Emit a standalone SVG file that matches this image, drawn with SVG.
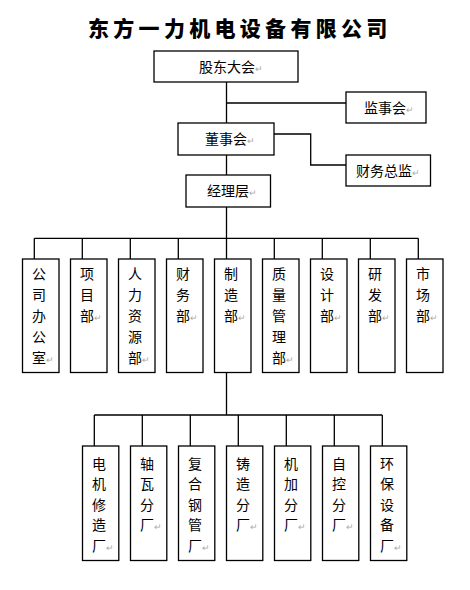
<svg xmlns="http://www.w3.org/2000/svg" width="470" height="590" viewBox="0 0 470 590">
<style>
.box{fill:#fff;stroke:#000;stroke-width:1.3}
.ln{fill:none;stroke:#000;stroke-width:1.3}
.t{font-family:"Noto Sans CJK SC","Noto Sans",sans-serif;font-size:14px;fill:#000}
.title{font-family:"Noto Sans CJK SC",sans-serif;font-size:21px;font-weight:900;fill:#000;letter-spacing:4.3px}
.m{font-size:9px;fill:#aaa}
</style>
<rect width="470" height="590" fill="#fff"/>
<text class="title" x="88" y="36">东方一力机电设备有限公司</text>
<g id="connectors">
<path class="ln" d="M226.5,82 V123 M226.5,103 H346 M274,134 H310.7 V165 H346 M226.5,155 V175 M226.5,207 V238.3"/>
<path class="ln" d="M34.3,238.3 H418.3 M34.3,238.3 V259 M82.3,238.3 V259 M130.3,238.3 V259 M178.3,238.3 V259 M226.5,238.3 V259 M274.3,238.3 V259 M322.3,238.3 V259 M370.3,238.3 V259 M418.3,238.3 V259"/>
<path class="ln" d="M226.5,372.5 V415 M94.3,415 H382.3 M94.3,415 V446 M142.3,415 V446 M190.3,415 V446 M238.3,415 V446 M286.3,415 V446 M334.3,415 V446 M382.3,415 V446"/>
</g>
<g id="gudong"><rect class="box" x="154" y="51" width="144" height="31"/><text class="t" x="199" y="71.5">股东大会<tspan class="m">↵</tspan></text></g>
<g id="jianshi"><rect class="box" x="346" y="92" width="80" height="31"/><text class="t" x="364" y="112.5">监事会<tspan class="m">↵</tspan></text></g>
<g id="dongshi"><rect class="box" x="178" y="123" width="96" height="32"/><text class="t" x="205" y="144">董事会<tspan class="m">↵</tspan></text></g>
<g id="caiwuzongjian"><rect class="box" x="346" y="155" width="84.5" height="31"/><text class="t" x="356" y="175.5">财务总监<tspan class="m">↵</tspan></text></g>
<g id="jingli"><rect class="box" x="186" y="175" width="84.5" height="32"/><text class="t" x="207" y="196">经理层<tspan class="m">↵</tspan></text></g>

<g id="d1"><rect class="box" x="22.5" y="259" width="36.5" height="113.5"/><text class="t"><tspan x="32" y="279">公</tspan><tspan x="32" y="300">司</tspan><tspan x="32" y="321">办</tspan><tspan x="32" y="342">公</tspan><tspan x="32" y="363">室<tspan class="m">↵</tspan></tspan></text></g>
<g id="d2"><rect class="box" x="70.5" y="259" width="36.5" height="113.5"/><text class="t"><tspan x="80" y="279">项</tspan><tspan x="80" y="300">目</tspan><tspan x="80" y="321">部<tspan class="m">↵</tspan></tspan></text></g>
<g id="d3"><rect class="box" x="118.5" y="259" width="36.5" height="113.5"/><text class="t"><tspan x="128" y="279">人</tspan><tspan x="128" y="300">力</tspan><tspan x="128" y="321">资</tspan><tspan x="128" y="342">源</tspan><tspan x="128" y="363">部<tspan class="m">↵</tspan></tspan></text></g>
<g id="d4"><rect class="box" x="166.5" y="259" width="36.5" height="113.5"/><text class="t"><tspan x="176" y="279">财</tspan><tspan x="176" y="300">务</tspan><tspan x="176" y="321">部<tspan class="m">↵</tspan></tspan></text></g>
<g id="d5"><rect class="box" x="214.5" y="259" width="36.5" height="113.5"/><text class="t"><tspan x="224" y="279">制</tspan><tspan x="224" y="300">造</tspan><tspan x="224" y="321">部<tspan class="m">↵</tspan></tspan></text></g>
<g id="d6"><rect class="box" x="262.5" y="259" width="36.5" height="113.5"/><text class="t"><tspan x="272" y="279">质</tspan><tspan x="272" y="300">量</tspan><tspan x="272" y="321">管</tspan><tspan x="272" y="342">理</tspan><tspan x="272" y="363">部<tspan class="m">↵</tspan></tspan></text></g>
<g id="d7"><rect class="box" x="310.5" y="259" width="36.5" height="113.5"/><text class="t"><tspan x="320" y="279">设</tspan><tspan x="320" y="300">计</tspan><tspan x="320" y="321">部<tspan class="m">↵</tspan></tspan></text></g>
<g id="d8"><rect class="box" x="358.5" y="259" width="36.5" height="113.5"/><text class="t"><tspan x="368" y="279">研</tspan><tspan x="368" y="300">发</tspan><tspan x="368" y="321">部<tspan class="m">↵</tspan></tspan></text></g>
<g id="d9"><rect class="box" x="406.5" y="259" width="36.5" height="113.5"/><text class="t"><tspan x="416" y="279">市</tspan><tspan x="416" y="300">场</tspan><tspan x="416" y="321">部<tspan class="m">↵</tspan></tspan></text></g>

<g id="f1"><rect class="box" x="82.5" y="446" width="36.3" height="114.5"/><text class="t"><tspan x="92" y="468.5">电</tspan><tspan x="92" y="489">机</tspan><tspan x="92" y="509.5">修</tspan><tspan x="92" y="530">造</tspan><tspan x="92" y="550.5">厂<tspan class="m">↵</tspan></tspan></text></g>
<g id="f2"><rect class="box" x="130.5" y="446" width="36.3" height="114.5"/><text class="t"><tspan x="140" y="468.5">轴</tspan><tspan x="140" y="489">瓦</tspan><tspan x="140" y="509.5">分</tspan><tspan x="140" y="530">厂<tspan class="m">↵</tspan></tspan></text></g>
<g id="f3"><rect class="box" x="178.5" y="446" width="36.3" height="114.5"/><text class="t"><tspan x="188" y="468.5">复</tspan><tspan x="188" y="489">合</tspan><tspan x="188" y="509.5">钢</tspan><tspan x="188" y="530">管</tspan><tspan x="188" y="550.5">厂<tspan class="m">↵</tspan></tspan></text></g>
<g id="f4"><rect class="box" x="226.5" y="446" width="36.3" height="114.5"/><text class="t"><tspan x="236" y="468.5">铸</tspan><tspan x="236" y="489">造</tspan><tspan x="236" y="509.5">分</tspan><tspan x="236" y="530">厂<tspan class="m">↵</tspan></tspan></text></g>
<g id="f5"><rect class="box" x="274.5" y="446" width="36.3" height="114.5"/><text class="t"><tspan x="284" y="468.5">机</tspan><tspan x="284" y="489">加</tspan><tspan x="284" y="509.5">分</tspan><tspan x="284" y="530">厂<tspan class="m">↵</tspan></tspan></text></g>
<g id="f6"><rect class="box" x="322.5" y="446" width="36.3" height="114.5"/><text class="t"><tspan x="332" y="468.5">自</tspan><tspan x="332" y="489">控</tspan><tspan x="332" y="509.5">分</tspan><tspan x="332" y="530">厂<tspan class="m">↵</tspan></tspan></text></g>
<g id="f7"><rect class="box" x="370.5" y="446" width="36.3" height="114.5"/><text class="t"><tspan x="380" y="468.5">环</tspan><tspan x="380" y="489">保</tspan><tspan x="380" y="509.5">设</tspan><tspan x="380" y="530">备</tspan><tspan x="380" y="550.5">厂<tspan class="m">↵</tspan></tspan></text></g>
</svg>
